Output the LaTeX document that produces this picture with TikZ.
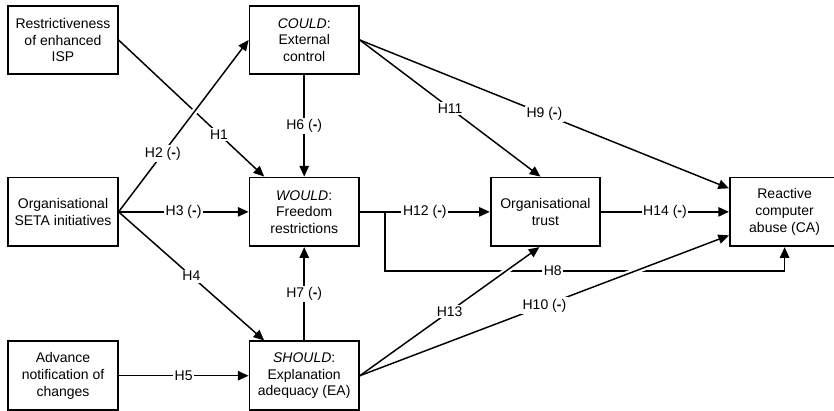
\documentclass[tikz,border=0pt]{standalone}
\usepackage{fontspec}
\setmainfont{Liberation Sans}
\usetikzlibrary{arrows.meta, positioning, calc}

\begin{document}
\begin{tikzpicture}[
    x=0.75pt, y=-0.75pt,
    node distance=76pt and 97.5pt,
    construct/.style={draw, rectangle, line width=1.4pt, align=center, minimum width=82pt, minimum height=51.5pt, inner sep=2pt, font=\fontsize{10.5}{12.5}\selectfont},
    hyp/.style={line width=1.1pt, -{Triangle[length=8pt, width=7pt]}},
    gap/.style={preaction={draw=white, line width=4.5pt, -, shorten <=18pt, shorten >=12pt}},
    lbl/.style={fill=white, inner sep=1.2pt, font=\fontsize{10.5}{12.5}\selectfont}
    ]

    \useasboundingbox (0,0) rectangle (834,410);

    % Constructs
    \node[construct] (isp) at (63,40) {Restrictiveness\\of enhanced\\ISP};
    \node[construct, right=of isp] (could) {\textit{COULD}:\\External\\control};
    \node[construct, below=of isp] (seta) {Organisational\\SETA initiatives};
    \node[construct, below=of could] (would) {\textit{WOULD}:\\Freedom\\restrictions};
    \node[construct, right=of would] (trust) {Organisational\\trust};
    \node[construct, right=of trust, xshift=-1.5pt] (ca) {Reactive\\computer\\abuse (CA)};
    \node[construct, below=70pt of seta] (adv) {Advance\\notification of\\changes};
    \node[construct, below=70pt of would] (should) {\textit{SHOULD}:\\Explanation\\adequacy (EA)};

    % Hypotheses
    \draw[hyp] (isp.east) -- node[lbl, pos=0.69] {H1} ($(would.north)+(-40,0)$);
    \draw[hyp, gap] (seta.east) -- node[lbl, pos=0.34] {H2 (\textbf{-})} (could.west);
    \draw[hyp] (seta.east) -- node[lbl] {H3 (\textbf{-})} (would.west);
    \draw[hyp] (seta.east) -- node[lbl] {H4} ($(should.north)+(-40,0)$);
    \draw[hyp] (adv) -- node[lbl] {H5} (should);
    \draw[hyp] (could) -- node[lbl] {H6 (\textbf{-})} (would);
    \draw[hyp] (should) -- node[lbl] {H7 (\textbf{-})} (would);
    \draw[hyp] (would) -- node[lbl] {H12 (\textbf{-})} (trust);
    \draw[hyp] (would.east) -- ++(25,0) -- ++(0,59) -| node[lbl, pos=0.21] {H8} (ca.south);
    \draw[hyp] (trust) -- node[lbl] {H14 (\textbf{-})} (ca);
    \draw[hyp] (could.east) -- node[lbl] {H11} ($(trust.north)+(-5,0)$);
    \draw[hyp] (could.east) -- node[lbl] {H9 (\textbf{-})} ($(ca.west)+(0,-23.5)$);
    \draw[hyp, gap] (should.east) -- node[lbl] {H13} ($(trust.south)+(-6,0)$);
    \draw[hyp, gap] (should.east) -- node[lbl] {H10 (\textbf{-})} ($(ca.west)+(0,23.5)$);

\end{tikzpicture}
\end{document}
